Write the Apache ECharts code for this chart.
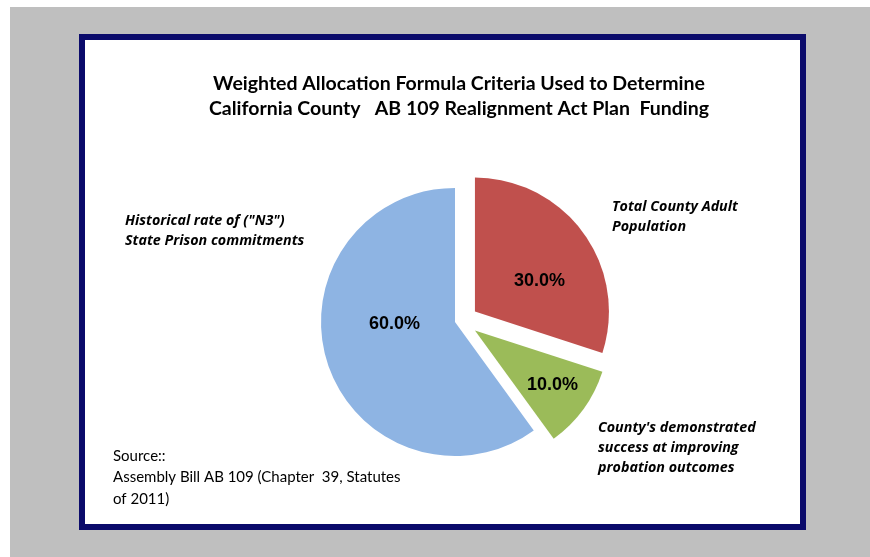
<!DOCTYPE html>
<html>
<head>
<meta charset="utf-8">
<script src="https://cdn.jsdelivr.net/npm/echarts@6/dist/echarts.min.js"></script>
<style>
  html, body { margin: 0; padding: 0; background: #fff; }
  #chart { width: 870px; height: 557px; }
</style>
</head>
<body>
<div id="chart"></div>
<script>
// data
const titleLines = [
  'Weighted Allocation Formula Criteria Used to Determine',
  'California County   AB 109 Realignment Act Plan  Funding',
];
const categories = [
  'Total County Adult\nPopulation',
  "County's demonstrated\nsuccess at improving\nprobation outcomes",
  'Historical rate of ("N3")\nState Prison commitments',
];
const shares = [30, 10, 60];
const colors = ['#C0504D', '#9BBB59', '#8EB4E3'];
const exploded = [true, true, false];
const sourceLines = ['Source::', 'Assembly Bill AB 109 (Chapter  39, Statutes', 'of 2011)'];

const chart = echarts.init(document.getElementById('chart'));

// left padding nudges the percent text sideways, offset moves it up/down
const pctPadLeft = [16, 42, 12];
const pctShiftY = [11, 13, -20];
// category label spots (text only)
const catSpots = [[612, 197], [598, 418], [125, 211]];

const font = 'Lato, "Open Sans", sans-serif';

const pctLabel = {
  position: 'inside',
  formatter: (p) => p.value.toFixed(1) + '%',
  color: '#000',
  fontFamily: 'Liberation Sans, Arial, sans-serif',
  fontWeight: 'bold',
  fontSize: 18,
};

// the big slice stays put, the two small ones are pulled out a bit to the right
const makeSeries = (center, offset, pick) => ({
  type: 'pie',
  center,
  radius: [0, 134],
  startAngle: 90,
  clockwise: true,
  selectedMode: 'multiple',
  selectedOffset: offset,
  label: pctLabel,
  labelLine: { show: false },
  emphasis: { disabled: true },
  silent: true,
  data: shares.map((v, i) => {
    const on = pick(i);
    const lab = { show: on, padding: [0, 0, 0, pctPadLeft[i]], offset: [0, pctShiftY[i]] };
    return {
      name: categories[i],
      value: v,
      selected: on && exploded[i],
      itemStyle: { color: on ? colors[i] : 'transparent' },
      label: lab,
      select: { label: lab, itemStyle: { color: on ? colors[i] : 'transparent' } },
    };
  }),
});

const option = {
  animation: false,
  graphic: [
    { type: 'rect', shape: { x: 10, y: 7, width: 860, height: 550 }, style: { fill: '#BFBFBF' }, z: -10 },
    { type: 'rect', shape: { x: 82, y: 37, width: 721, height: 490 }, style: { fill: '#fff', stroke: '#0B0B6B', lineWidth: 6 }, z: -9 },
    {
      type: 'text', x: 459, y: 71,
      style: {
        text: titleLines.join('\n'), fill: '#000', align: 'center',
        font: 'bold 19.5px ' + font, lineHeight: 25,
      },
    },
    ...categories.map((c, i) => ({
      type: 'text', x: catSpots[i][0], y: catSpots[i][1],
      style: {
        text: c, fill: '#000',
        font: 'italic bold 14.3px "Open Sans", sans-serif', lineHeight: 20,
      },
    })),
    {
      type: 'text', x: 113, y: 445,
      style: {
        text: sourceLines.join('\n'), fill: '#000',
        font: '15px ' + font, lineHeight: 21.5,
      },
    },
  ],
  series: [
    makeSeries([455, 322], 0, (i) => !exploded[i]),
    makeSeries([462, 321], 16, (i) => exploded[i]),
  ],
};

chart.setOption(option);
</script>
</body>
</html>
